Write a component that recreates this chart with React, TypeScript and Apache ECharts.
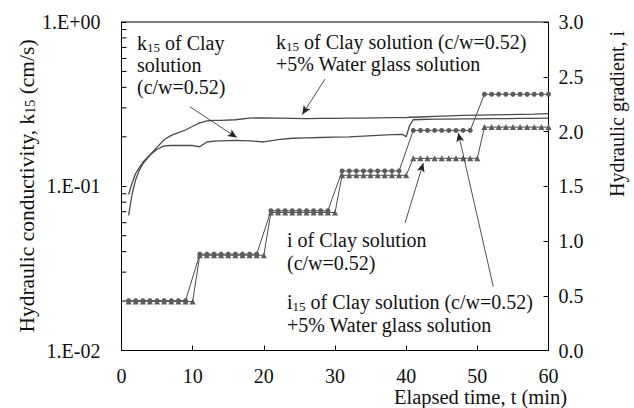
import React, { useEffect, useRef } from "react";
import * as echarts from "echarts";

// Elapsed time (min) at which k15 was logged
const kTime = [1, 1.5, 2, 2.5, 3, 4, 5, 6, 7, 8, 9, 10, 11, 12, 13, 14, 16, 18, 20, 22, 24, 26, 28, 30, 32, 34, 36, 38, 39.5, 40, 40.5, 41, 42, 44, 46, 48, 50, 52, 54, 56, 58, 60];
// k15 of clay solution (c/w=0.52), cm/s
const kClay = [0.089, 0.105, 0.12, 0.13, 0.14, 0.155, 0.168, 0.176, 0.177, 0.177, 0.177, 0.177, 0.174, 0.186, 0.188, 0.189, 0.19, 0.189, 0.186, 0.192, 0.196, 0.197, 0.198, 0.199, 0.2, 0.202, 0.204, 0.206, 0.207, 0.2, 0.235, 0.254, 0.255, 0.256, 0.256, 0.257, 0.257, 0.258, 0.258, 0.259, 0.259, 0.26];
// k15 of clay solution (c/w=0.52) + 5% water glass solution, cm/s
const kGlass = [0.0665, 0.09, 0.11, 0.125, 0.137, 0.155, 0.173, 0.192, 0.204, 0.212, 0.22, 0.232, 0.243, 0.25, 0.252, 0.252, 0.254, 0.26, 0.261, 0.26, 0.259, 0.258, 0.259, 0.259, 0.26, 0.26, 0.261, 0.262, 0.262, 0.262, 0.263, 0.263, 0.264, 0.266, 0.268, 0.27, 0.271, 0.272, 0.273, 0.274, 0.275, 0.277];

// Hydraulic gradient i of clay solution (triangles), one reading per minute
const iClayTime = [1, 2, 3, 4, 5, 6, 7, 8, 9, 10, 11, 12, 13, 14, 15, 16, 17, 18, 19, 20, 21, 22, 23, 24, 25, 26, 27, 28, 29, 30, 31, 32, 33, 34, 35, 36, 37, 38, 39, 40, 41, 42, 43, 44, 45, 46, 47, 48, 49, 50, 51, 52, 53, 54, 55, 56, 57, 58, 59, 60];
const iClay = [
  0.447, 0.447, 0.447, 0.447, 0.447, 0.447, 0.447, 0.447, 0.447, 0.447,
  0.87, 0.87, 0.87, 0.87, 0.87, 0.87, 0.87, 0.87, 0.87, 0.87,
  1.26, 1.26, 1.26, 1.26, 1.26, 1.26, 1.26, 1.26, 1.26, 1.26,
  1.6, 1.6, 1.6, 1.6, 1.6, 1.6, 1.6, 1.6, 1.6, 1.6,
  1.755, 1.755, 1.755, 1.755, 1.755, 1.755, 1.755, 1.755, 1.755, 1.755,
  2.04, 2.04, 2.04, 2.04, 2.04, 2.04, 2.04, 2.04, 2.04, 2.04,
];

// Hydraulic gradient i15 of clay solution + 5% water glass (circles)
const iGlassTime = [1, 2, 3, 4, 5, 6, 7, 8, 9, 11, 12, 13, 14, 15, 16, 17, 18, 19, 21, 22, 23, 24, 25, 26, 27, 28, 29, 31, 32, 33, 34, 35, 36, 37, 38, 39, 41, 42, 43, 44, 45, 46, 47, 48, 49, 51, 52, 53, 54, 55, 56, 57, 58, 59, 60];
const iGlass = [
  0.455, 0.455, 0.455, 0.455, 0.455, 0.455, 0.455, 0.455, 0.455,
  0.88, 0.88, 0.88, 0.88, 0.88, 0.88, 0.88, 0.88, 0.88,
  1.276, 1.276, 1.276, 1.276, 1.276, 1.276, 1.276, 1.276, 1.276,
  1.64, 1.64, 1.64, 1.64, 1.64, 1.64, 1.64, 1.64, 1.64,
  2.01, 2.01, 2.01, 2.01, 2.01, 2.01, 2.01, 2.01, 2.01,
  2.34, 2.34, 2.34, 2.34, 2.34, 2.34, 2.34, 2.34, 2.34, 2.34,
];

// Intermediate ticks of the logarithmic k15 axis
const kMinorTicks = [0.02, 0.03, 0.04, 0.05, 0.06, 0.07, 0.08, 0.09, 0.2, 0.3, 0.4, 0.5, 0.6, 0.7, 0.8, 0.9];

const serif = "'Liberation Serif', 'Times New Roman', serif";
const ink = "#111";
const lineGray = "#4a4a4a";
const markGray = "#5c5c5c";

const makeRich = (size: number, lh: number) => ({
  n: { fontSize: size, fontFamily: serif, fill: ink, color: ink, lineHeight: lh },
  s: { fontSize: Math.round(size * 0.65), fontFamily: serif, fill: ink, color: ink, verticalAlign: "bottom" as const },
});

const note = (
  x: number,
  y: number,
  text: string,
  extra: Record<string, unknown> = {},
  size = 20,
  lh = 21
) => ({
  type: "text",
  x,
  y,
  silent: true,
  ...extra,
  style: {
    text,
    rich: makeRich(size, lh),
    fontSize: size,
    fontFamily: serif,
    fill: ink,
    align: "left",
    verticalAlign: "middle",
    ...((extra.style as object) || {}),
  },
});

const zip = (xs: number[], ys: number[]) => xs.map((x, i) => [x, ys[i]]);

const arrow = (from: number[], to: number[]) => [{ coord: from }, { coord: to }];
const arrowStyle = {
  silent: true,
  symbol: ["none", "arrow"],
  symbolSize: [6, 9],
  label: { show: false },
  lineStyle: { color: "#222", width: 0.8, type: "solid" as const },
  emphasis: { disabled: true },
};

const expLabel = (v: number) => {
  const e = Math.round(Math.log10(v));
  return "1.E" + (e >= 0 ? "+" : "-") + String(Math.abs(e)).padStart(2, "0");
};

export default function App() {
  const ref = useRef<HTMLDivElement>(null);

  useEffect(() => {
    document.body.style.margin = "0";
    const chart = echarts.init(ref.current!, null, { renderer: "svg" });
    chart.setOption({
      animation: false,
      backgroundColor: "#fff",
      grid: {
        left: 121.5,
        right: 85.5,
        top: 22,
        bottom: 57.5,
        show: true,
        borderColor: "#000",
        borderWidth: 1,
        backgroundColor: "transparent",
      },
      xAxis: {
        type: "value",
        min: 0,
        max: 60,
        interval: 10,
        axisLine: { show: true, lineStyle: { color: "#000", width: 1 } },
        axisTick: { show: true, inside: true, length: 5, lineStyle: { color: "#000" } },
        axisLabel: { margin: 15, fontSize: 20, lineHeight: 20, fontFamily: serif, color: ink },
        splitLine: { show: false },
      },
      yAxis: [
        {
          type: "log",
          logBase: 10,
          min: 0.01,
          max: 1,
          position: "left",
          axisLine: { show: true, lineStyle: { color: "#000", width: 1 } },
          axisTick: { show: true, inside: true, length: 5, lineStyle: { color: "#000" } },
          axisLabel: { margin: 21, fontSize: 20, fontFamily: serif, color: ink, formatter: expLabel },
          splitLine: { show: false },
        },
        {
          type: "value",
          min: 0,
          max: 3,
          interval: 0.5,
          position: "right",
          axisLine: { show: true, lineStyle: { color: "#000", width: 1 } },
          axisTick: { show: true, inside: true, length: 5, lineStyle: { color: "#000" } },
          axisLabel: { margin: 10, fontSize: 20, fontFamily: serif, color: ink, formatter: (v: number) => v.toFixed(1) },
          splitLine: { show: false },
        },
      ],
      series: [
        {
          type: "custom",
          yAxisIndex: 0,
          silent: true,
          clip: false,
          data: kMinorTicks.map((v) => [0, v]),
          renderItem: (_p: unknown, api: any) => {
            const p = api.coord([api.value(0), api.value(1)]);
            return {
              type: "line",
              shape: { x1: p[0], y1: p[1], x2: p[0] + 5, y2: p[1] },
              style: { stroke: "#000", lineWidth: 1 },
            };
          },
          z: 5,
        },
        {
          name: "k15 clay",
          type: "line",
          yAxisIndex: 0,
          data: zip(kTime, kClay),
          showSymbol: false,
          symbol: "none",
          lineStyle: { color: lineGray, width: 1.3 },
          markLine: { ...arrowStyle, data: [arrow([9.6, 0.305], [16.2, 0.198])] },
        },
        {
          name: "k15 clay + water glass",
          type: "line",
          yAxisIndex: 0,
          data: zip(kTime, kGlass),
          showSymbol: false,
          symbol: "none",
          lineStyle: { color: lineGray, width: 1.3 },
          markLine: { ...arrowStyle, data: [arrow([28.6, 0.449], [25.4, 0.2735])] },
        },
        {
          name: "i clay",
          type: "line",
          yAxisIndex: 1,
          data: zip(iClayTime, iClay),
          symbol: "triangle",
          symbolSize: 6,
          itemStyle: { color: markGray },
          lineStyle: { color: lineGray, width: 1 },
          markLine: { ...arrowStyle, data: [arrow([39.83, 1.163], [42.41, 1.712])] },
        },
        {
          name: "i15 clay + water glass",
          type: "line",
          yAxisIndex: 1,
          data: zip(iGlassTime, iGlass),
          symbol: "circle",
          symbolSize: 5,
          itemStyle: { color: markGray },
          lineStyle: { color: lineGray, width: 1 },
          markLine: { ...arrowStyle, data: [arrow([52.24, 0.584], [47.32, 1.987])] },
        },
      ],
      graphic: [
        note(137, 43, "{n|k}{s|15}{n| of Clay}"),
        note(137, 65, "{n|solution}"),
        note(137, 87, "{n|(c/w=0.52)}"),
        note(276, 42, "{n|k}{s|15}{n| of Clay solution (c/w=0.52)}"),
        note(276, 64, "{n|+5% Water glass solution}"),
        note(287, 240, "{n|i of Clay solution}"),
        note(287, 263, "{n|(c/w=0.52)}"),
        note(287, 302, "{n|i}{s|15}{n| of Clay solution (c/w=0.52)}"),
        note(287, 325, "{n|+5% Water glass solution}"),
        note(27, 186, "{n|Hydraulic conductivity, k}{s|15}{n| (cm/s)}", {
          rotation: Math.PI / 2,
          style: { align: "center" },
        }, 21.5),
        note(617, 114, "{n|Hydraulic gradient, i}", {
          rotation: Math.PI / 2,
          style: { align: "center" },
        }),
        note(567, 397, "{n|Elapsed time, t (min)}", { style: { align: "right" } }, 20.5, 19),
      ],
    });
    return () => chart.dispose();
  }, []);

  return <div ref={ref} style={{ width: 634, height: 408 }} />;
}
